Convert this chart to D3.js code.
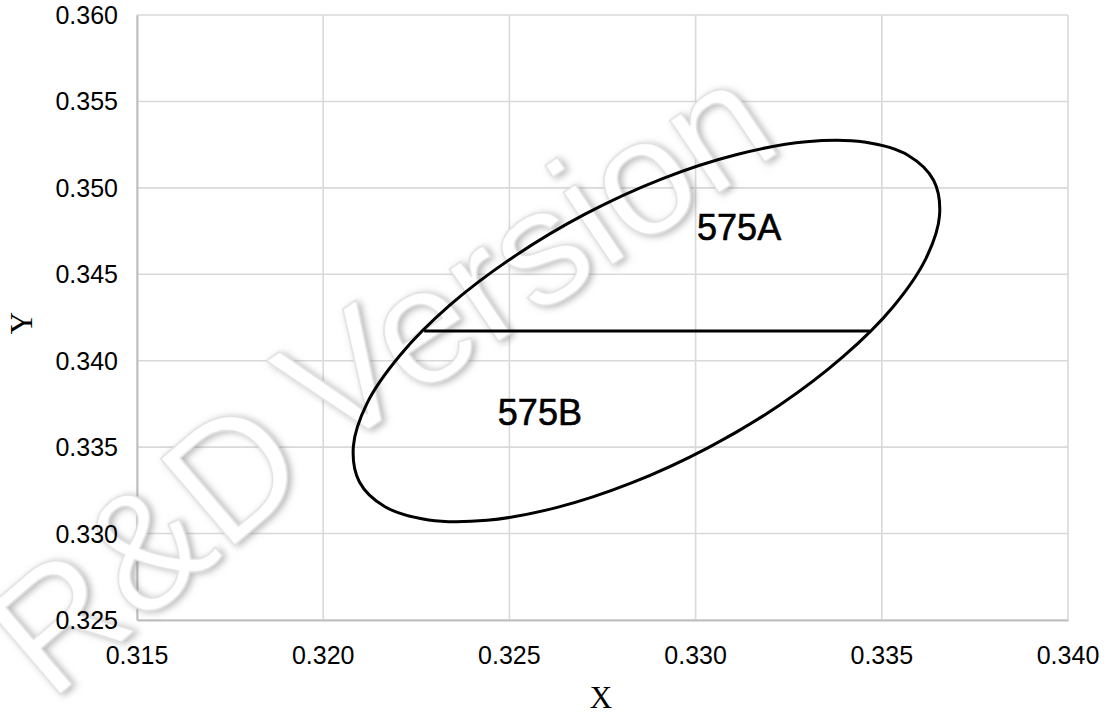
<!DOCTYPE html>
<html>
<head>
<meta charset="utf-8">
<script src="https://cdn.jsdelivr.net/npm/d3@7"></script>
<style>
  html, body { margin: 0; padding: 0; background: #fff; }
  svg { display: block; }
</style>
</head>
<body>
<svg id="chart" width="1113" height="715"></svg>
<script>
// ---- data ----
const xTicks = [0.315, 0.320, 0.325, 0.330, 0.335, 0.340];
const yTicks = [0.325, 0.330, 0.335, 0.340, 0.345, 0.350, 0.355, 0.360];
const xTickLabels = ["0.315", "0.320", "0.325", "0.330", "0.335", "0.340"];
const yTickLabels = ["0.325", "0.330", "0.335", "0.340", "0.345", "0.350", "0.355", "0.360"];

// closed boundary (x, y chromaticity)
const boundaryX = [0.33639, 0.33655, 0.33618, 0.33530, 0.33396, 0.33227, 0.33033, 0.32828,
                   0.32626, 0.32440, 0.32283, 0.32166, 0.32097, 0.32081, 0.32118, 0.32207,
                   0.32340, 0.32510, 0.32703, 0.32908, 0.33111, 0.33297, 0.33453, 0.33570];
const boundaryY = [0.35044, 0.34839, 0.34589, 0.34311, 0.34023, 0.33745, 0.33496, 0.33293,
                   0.33150, 0.33077, 0.33079, 0.33155, 0.33300, 0.33504, 0.33755, 0.34033,
                   0.34321, 0.34599, 0.34848, 0.35051, 0.35193, 0.35267, 0.35265, 0.35189];

// dividing line between 575A and 575B
const splitX = [0.32271, 0.33468];
const splitY = [0.34172, 0.34172];

const regionNames = ["575A", "575B"];
const regionX = [0.33004, 0.32469];
const regionY = [0.34698, 0.33628];

const xTitle = "X";
const yTitle = "Y";
const watermarkParts = ["R&D", "Version"];

// ---- layout ----
const svg = d3.select("#chart");
const pLeft = 137, pRight = 1068, pTop = 15, pBottom = 620;

const x = d3.scaleLinear().domain([0.315, 0.340]).range([pLeft, pRight]);
const y = d3.scaleLinear().domain([0.325, 0.360]).range([pBottom, pTop]);

// gridlines
const grid = svg.append("g");
grid.selectAll("line.v").data(xTicks).join("line")
  .attr("class", "v")
  .attr("x1", d => x(d)).attr("x2", d => x(d))
  .attr("y1", pTop).attr("y2", pBottom)
  .attr("stroke", "#d9d9d9").attr("stroke-width", 1.6);
grid.selectAll("line.h").data(yTicks).join("line")
  .attr("class", "h")
  .attr("x1", pLeft).attr("x2", pRight)
  .attr("y1", d => y(d)).attr("y2", d => y(d))
  .attr("stroke", "#d9d9d9").attr("stroke-width", 1.6);

// axis lines (left & bottom)
const xAxis = svg.append("g").attr("transform", `translate(0,${pBottom})`)
  .call(d3.axisBottom(x).tickValues(xTicks).tickSize(0).tickFormat((d, i) => xTickLabels[i]));
xAxis.select(".domain").attr("stroke", "#bfbfbf").attr("stroke-width", 2);
xAxis.selectAll("text").remove();

const yAxis = svg.append("g").attr("transform", `translate(${pLeft},0)`)
  .call(d3.axisLeft(y).tickValues(yTicks).tickSize(0).tickFormat((d, i) => yTickLabels[i]));
yAxis.select(".domain").attr("stroke", "#bfbfbf").attr("stroke-width", 2);
yAxis.selectAll("text").remove();

// watermark (two runs along a slightly bent baseline)
const defs = svg.append("defs");
const f = defs.append("filter").attr("id", "wmShadow")
  .attr("x", "-10%").attr("y", "-10%").attr("width", "120%").attr("height", "120%");
f.append("feDropShadow").attr("dx", 2).attr("dy", 3).attr("stdDeviation", 3.5)
  .attr("flood-color", "#7a7a7a").attr("flood-opacity", 0.55);

const wmPlace = [
  { t: "translate(50,703) rotate(-40.5)", dx: 0 },
  { t: "translate(375,425) rotate(-34)", dx: -55 }
];
svg.selectAll("text.wm").data(watermarkParts).join("text")
  .attr("class", "wm")
  .attr("transform", (d, i) => wmPlace[i].t)
  .attr("x", (d, i) => wmPlace[i].dx)
  .attr("font-family", "'Liberation Sans', Arial, sans-serif")
  .attr("font-size", 165)
  .attr("fill", "#ffffff")
  .attr("stroke", "#e0e0e0")
  .attr("stroke-width", 1.5)
  .attr("stroke-linejoin", "round")
  .attr("filter", "url(#wmShadow)")
  .text(d => d);

// boundary curve
const pts = boundaryX.map((v, i) => [x(v), y(boundaryY[i])]);
svg.append("path")
  .attr("d", d3.line().curve(d3.curveCatmullRomClosed.alpha(0.5))(pts))
  .attr("fill", "none").attr("stroke", "#000").attr("stroke-width", 3);

svg.append("path")
  .attr("d", d3.line()(splitX.map((v, i) => [x(v), y(splitY[i])])))
  .attr("fill", "none").attr("stroke", "#000").attr("stroke-width", 3);

// region labels
svg.selectAll("text.region").data(regionNames).join("text")
  .attr("class", "region")
  .attr("x", (d, i) => x(regionX[i]))
  .attr("y", (d, i) => y(regionY[i]))
  .attr("font-family", "'Liberation Sans', Arial, sans-serif")
  .attr("font-size", 36)
  .attr("fill", "#000")
  .attr("stroke", "#000").attr("stroke-width", 0.6)
  .text(d => d);

// tick labels
svg.selectAll("text.xt").data(xTicks).join("text")
  .attr("class", "xt")
  .attr("x", d => x(d)).attr("y", 664)
  .attr("text-anchor", "middle")
  .attr("font-family", "'Liberation Sans', Arial, sans-serif")
  .attr("font-size", 25).attr("fill", "#000")
  .text((d, i) => xTickLabels[i]);

svg.selectAll("text.yt").data(yTicks).join("text")
  .attr("class", "yt")
  .attr("x", 118).attr("y", d => y(d) + 9)
  .attr("text-anchor", "end")
  .attr("font-family", "'Liberation Sans', Arial, sans-serif")
  .attr("font-size", 25).attr("fill", "#000")
  .text((d, i) => yTickLabels[i]);

// axis titles
svg.append("text")
  .attr("x", 601).attr("y", 708)
  .attr("text-anchor", "middle")
  .attr("font-family", "'Liberation Serif', 'Times New Roman', serif")
  .attr("font-size", 31).attr("fill", "#000")
  .text(xTitle);

svg.append("text")
  .attr("transform", "translate(32,323) rotate(-90)")
  .attr("text-anchor", "middle")
  .attr("font-family", "'Liberation Serif', 'Times New Roman', serif")
  .attr("font-size", 31).attr("fill", "#000")
  .text(yTitle);
</script>
</body>
</html>
